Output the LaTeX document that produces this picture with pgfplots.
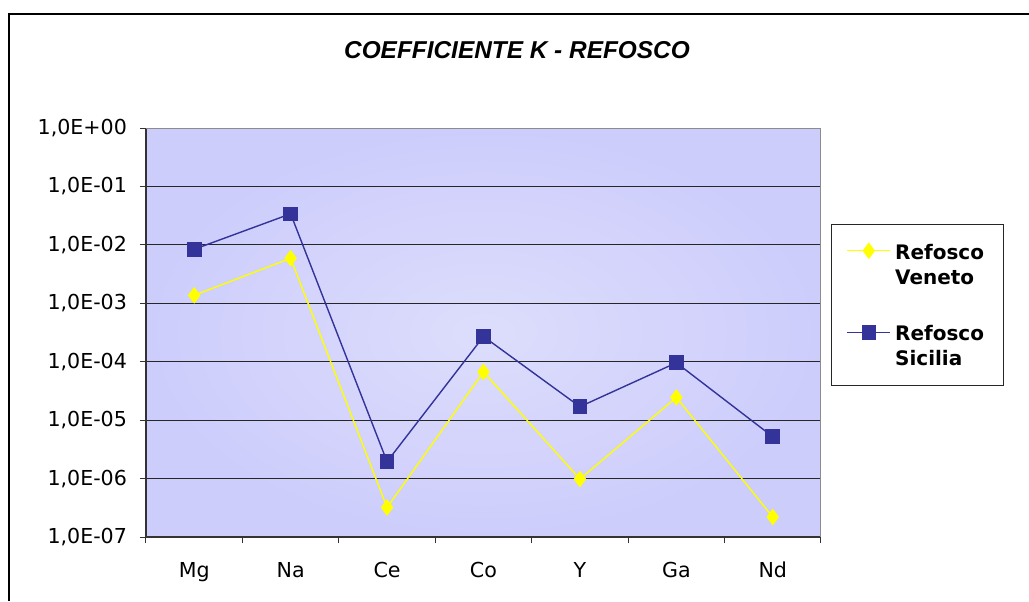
\documentclass[border=0pt]{standalone}
\usepackage{fontspec}
\setmainfont{DejaVu Sans}
\newfontfamily\titlefont{Liberation Sans}
\usepackage{pgfplots}
\pgfplotsset{compat=1.18}

\definecolor{sicilia}{RGB}{51,51,153}
\definecolor{veneto}{RGB}{255,255,0}
\definecolor{bgout}{RGB}{205,205,252}
\definecolor{bgin}{RGB}{221,221,252}

\begin{document}
\begin{tikzpicture}
\useasboundingbox (0,0) rectangle (514.5pt,300.5pt);
\fill[white] (0,0) rectangle (514.5pt,300.5pt);
\draw[black, line width=0.8pt] (4.5pt,0) -- (4.5pt,293.5pt) -- (514.5pt,293.5pt);
\begin{axis}[
    at={(73pt,32pt)}, anchor=south west,
    scale only axis,
    width=337.5pt, height=204.5pt,
    ymode=log,
    ymin=1e-7, ymax=1,
    ytick={1e-7,1e-6,1e-5,1e-4,1e-3,1e-2,1e-1,1},
    yticklabels={{1,0E-07},{1,0E-06},{1,0E-05},{1,0E-04},{1,0E-03},{1,0E-02},{1,0E-01},{1,0E+00}},
    yminorticks=false,
    xmin=-0.5, xmax=6.5,
    xtick={-0.5,0.5,...,6.5},
    x tick label as interval,
    xticklabels={Mg,Na,Ce,Co,Y,Ga,Nd},
    axis lines*=left,
    axis line style={black!80, line width=0.8pt},
    tick align=outside,
    major tick length=3pt,
    tick style={black!80, line width=0.5pt},
    ymajorgrids,
    grid style={black!85, line width=0.5pt},
    ticklabel style={font=\fontsize{10.3}{12}\selectfont},
    yticklabel style={xshift=-3pt},
    xticklabel style={yshift=-6pt},
    axis background/.style={inner color=bgin, outer color=bgout},
    title={\titlefont\bfseries\itshape COEFFICIENTE K - REFOSCO},
    title style={at={(0.5496,1.191)}, anchor=center, yshift=-6pt,
        font=\fontsize{12.2}{14}\selectfont},
    legend style={at={(1.0148,0.765)}, anchor=north west,
        draw=black!85, line width=0.5pt, fill=white,
        inner xsep=7.5pt, inner ysep=6.5pt,
        nodes={inner sep=2pt},
        row sep=14pt,
        font=\fontsize{10}{12.5}\selectfont\bfseries},
    legend cell align=left,
    legend image code/.code={
        \draw[yshift=6.8pt,mark repeat=2,mark phase=2] plot coordinates {(0cm,0cm) (0.38cm,0cm) (0.76cm,0cm)};
    },
]
\addplot[veneto, line width=0.7pt, mark=diamond*, mark size=3.6pt,
    mark options={fill=veneto, draw=veneto}] coordinates {
    (0,1.37e-3) (1,5.9e-3) (2,3.2e-7) (3,6.7e-5) (4,9.8e-7) (5,2.45e-5) (6,2.2e-7)
};
\addlegendentry{\begin{tabular}[b]{@{}l@{}}Refosco\\Veneto\end{tabular}}
\addplot[sicilia, line width=0.7pt, mark=square*, mark size=3.3pt,
    mark options={fill=sicilia, draw=sicilia}] coordinates {
    (0,8.4e-3) (1,3.4e-2) (2,1.95e-6) (3,2.7e-4) (4,1.7e-5) (5,9.6e-5) (6,5.2e-6)
};
\addlegendentry{\begin{tabular}[b]{@{}l@{}}Refosco\\Sicilia\end{tabular}}
\draw[black!45, line width=0.8pt] (rel axis cs:0,1) -- (rel axis cs:1,1) -- (rel axis cs:1,0);
\end{axis}
\end{tikzpicture}
\end{document}
